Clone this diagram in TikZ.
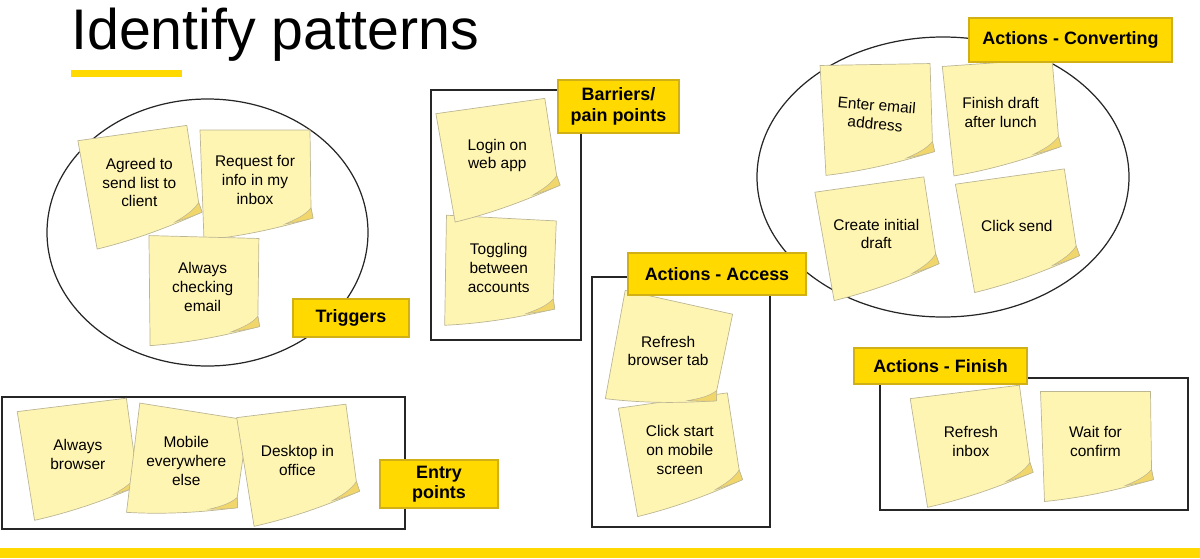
\documentclass[tikz,border=0pt]{standalone}
\usepackage{fontspec}
\setmainfont{Liberation Sans}

\definecolor{notefill}{RGB}{255,245,178}
\definecolor{noteedge}{RGB}{188,182,148}
\definecolor{curlfill}{RGB}{241,214,108}
\definecolor{tagfill}{RGB}{255,217,0}
\definecolor{tagedge}{RGB}{208,176,20}

\tikzset{
  notebody/.style={fill=notefill, draw=noteedge, line width=0.4pt},
  notecurl/.style={fill=curlfill, draw=noteedge, line width=0.3pt},
  notetext/.style={align=center, inner sep=0pt, font=\fontsize{8.8}{10.6}\selectfont},
  tag/.style 2 args={fill=tagfill, draw=tagedge, line width=0.6pt, align=center, inner sep=0pt,
    minimum width=#1*0.02cm, minimum height=#2*0.02cm, font=\fontsize{10.2}{11.6}\selectfont\bfseries},
  groupline/.style={draw=black!85, line width=0.7pt},
}

% sticky note: [text angle]{name}{x}{y}{note angle}{text}
\newcommand{\stickynote}[6][0]{%
  \begin{scope}[shift={(#3,#4)}, rotate=#5]
    \path[notebody] (-55,-55) -- (55,-55) -- (56,23) -- (58,33)
      .. controls (40,38) and (0,50) .. (-51,55) -- cycle;
    \path[notecurl] (56,23) .. controls (50,30) and (42,34) .. (30,39)
      .. controls (42,37) and (52,35) .. (58,33) -- cycle;
    \node[notetext, rotate=#1] (#2) at (0,-5) {#6};
  \end{scope}}

\begin{document}
\begin{tikzpicture}[x=0.02cm, y=-0.02cm]
        \useasboundingbox (0,0) rectangle (1200,558);

        % Title and bars
        \node[anchor=base west, inner sep=0pt, font=\fontsize{32.6}{38}\selectfont] (title) at (71,49) {Identify patterns};
        \fill[tagfill] (71,70) rectangle (182,77);
        \fill[tagfill] (0,548) rectangle (1200,558);

        % Draw the groups
        \draw[groupline] (207.5,232.5) ellipse [x radius=160.5, y radius=133.5];
        \draw[groupline] (943,177) ellipse [x radius=186, y radius=140];
        \draw[groupline] (2,397) rectangle (405,529);
        \draw[groupline] (431,90) rectangle (581,340);
        \draw[groupline] (592,277) rectangle (770,527);
        \draw[groupline] (880,378) rectangle (1188,510);

        % Triggers notes
        \stickynote{agreed}{140}{187.5}{8}{Agreed to\\send list to\\client}
        \stickynote{request}{255}{185}{0}{Request for\\info in my\\inbox}
        \stickynote{checking}{202.5}{292}{-1.5}{Always\\checking\\email}

        % Entry notes
        \stickynote{browser}{78.5}{459.5}{7}{Always\\browser}
        \stickynote{mobile}{185.5}{466}{-9}{Mobile\\everywhere\\else}
        \stickynote{desktop}{298}{465.5}{7}{Desktop in\\office}

        % Barrier notes
        \stickynote{toggling}{498.5}{273}{-3}{Toggling\\between\\accounts}
        \stickynote{login}{498}{160.5}{8}{Login on\\web app}

        % Access notes
        \stickynote{clickstart}{680.5}{455}{8}{Click start\\on mobile\\screen}
        \stickynote{refreshtab}{667}{356}{-12.5}{Refresh\\browser tab}

        % Converting notes
        \stickynote[-5]{enteremail}{876}{119.5}{1}{Enter email\\address}
        \stickynote{finishdraft}{1001}{117.5}{4}{Finish draft\\after lunch}
        \stickynote{createdraft}{877}{239}{8}{Create initial\\draft}
        \stickynote{clicksend}{1017.5}{231}{8}{Click send}

        % Finish notes
        \stickynote{refreshinbox}{971.5}{446.5}{7}{Refresh\\inbox}
        \stickynote{waitconfirm}{1095.5}{446.5}{0}{Wait for\\confirm}

        % Group labels
        \node[tag={116}{38}] (triggers) at (351,318) {Triggers};
        \node[tag={118}{48}] (entry) at (439,484) {Entry\\points};
        \node[tag={121}{53}] (barriers) at (618.5,106.5) {Barriers/\\pain points};
        \node[tag={178}{42}] (access) at (717,274) {Actions - Access};
        \node[tag={203}{44}] (converting) at (1070.5,40) {Actions - Converting};
        \node[tag={173}{36}] (finish) at (940.5,366) {Actions - Finish};
    \end{tikzpicture}
\end{document}
